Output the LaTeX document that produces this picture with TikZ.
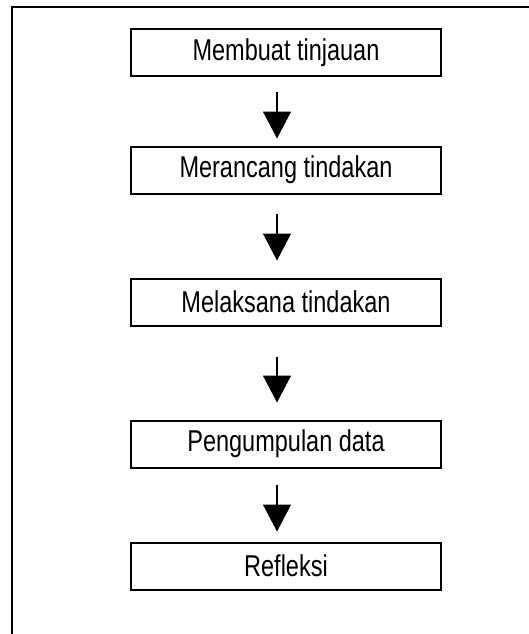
\documentclass[tikz,border=0pt]{standalone}
\usepackage{fontspec}
\setmainfont{Liberation Sans}
\usetikzlibrary{arrows.meta}
\begin{document}
\begin{tikzpicture}[x=1pt,y=-1pt,
  stepbox/.style={draw=black,line width=2pt,minimum width=310pt,minimum height=47pt,inner sep=0pt,
    font=\fontsize{23.5}{28}\selectfont},
  flow/.style={line width=1.4pt,-{Triangle[width=28pt,length=27pt]}},
  frame/.style={line width=2.2pt}]
\useasboundingbox (0,0) rectangle (529,634);
\fill[white] (0,0) rectangle (529,634);
\coordinate (ftl) at (12,7);
\coordinate (ftr) at (529,7);
\coordinate (fbl) at (12,634);
\draw[frame] (ftr) -- (ftl) -- (fbl);
\node[stepbox] (b1) at (286,52.5) {\scalebox{1}[1.28]{Membuat tinjauan}};
\node[stepbox] (b2) at (286,170) {\scalebox{1}[1.28]{Merancang tindakan}};
\node[stepbox] (b3) at (286,302) {\scalebox{1}[1.28]{Melaksana tindakan}};
\node[stepbox] (b4) at (286,444) {\scalebox{1}[1.28]{Pengumpulan data}};
\node[stepbox] (b5) at (286,566) {\scalebox{1}[1.28]{Refleksi}};
\draw[flow,shorten <=15pt,shorten >=7pt] ([xshift=-9pt]b1.south) -- ([xshift=-9pt]b2.north);
\draw[flow,shorten <=19pt,shorten >=17pt] ([xshift=-9pt]b2.south) -- ([xshift=-9pt]b3.north);
\draw[flow,shorten <=30pt,shorten >=17pt] ([xshift=-9pt]b3.south) -- ([xshift=-9pt]b4.north);
\draw[flow,shorten <=16pt,shorten >=10pt] ([xshift=-9pt]b4.south) -- ([xshift=-9pt]b5.north);
\end{tikzpicture}
\end{document}
